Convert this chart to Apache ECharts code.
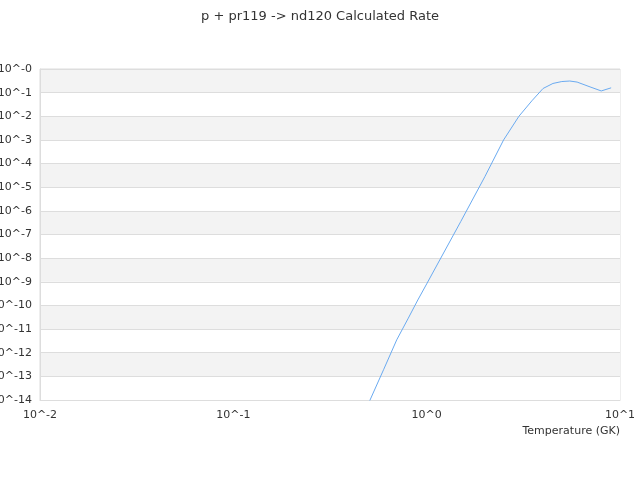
<!DOCTYPE html>
<html>
<head>
<meta charset="utf-8">
<script src="https://cdn.jsdelivr.net/npm/echarts@6/dist/echarts.min.js"></script>
<style>
  html, body { margin: 0; padding: 0; }
  #main { width: 640px; height: 480px; }
</style>
</head>
<body>
<div id="main"></div>
<script>
// temperatures in GK
var temps = [0.4, 0.5, 0.6, 0.7, 0.8, 0.9, 1.0, 1.5, 2, 2.5, 3, 3.5, 4, 4.5, 5, 5.5, 6, 7, 8, 9];
// calculated rate at each temperature
var rates = [1.3e-16, 7.1e-15, 2.0e-13, 3.5e-12, 2.7e-11, 1.7e-10, 8.1e-10, 3.5e-7, 2.8e-5, 1.0e-3,
             1.0e-2, 4.5e-2, 0.15, 0.245, 0.295, 0.31, 0.28, 0.175, 0.118, 0.16];

var myChart = echarts.init(document.getElementById('main'));

var points = [];
for (var i = 0; i < temps.length; i++) {
	points.push([temps[i], rates[i]]);
}

option = {
	animation : false,
	textStyle : { fontFamily : 'DejaVu Sans' },
	title : {
		text : 'p + pr119 -> nd120 Calculated Rate',
		left : 'center',
		top : 5,
		textStyle : { fontSize : 13, fontWeight : 'normal', color : '#333', fontFamily : 'DejaVu Sans' }
	},
	grid : {
		left : 40,
		right : 20,
		top : 69,
		bottom : 80,
		containLabel : false,
		outerBoundsMode : 'none',
		show : true,
		borderColor : '#ddd',
		borderWidth : 1
	},
	xAxis : {
		type : 'log',
		logBase : 10,
		min : 0.01,
		max : 10,
		name : 'Temperature (GK)',
		nameLocation : 'end',
		nameGap : 0,
		nameTextStyle : { align : 'right', verticalAlign : 'top', padding : [26, 0, 0, 0], color : '#333', fontSize : 11, fontFamily : 'DejaVu Sans' },
		axisLine : { lineStyle : { color : '#ddd' } },
		axisTick : { show : false },
		splitLine : { show : false },
		axisLabel : {
			color : '#333',
			fontSize : 11,
			margin : 10,
			fontFamily : 'DejaVu Sans',
			formatter : function(v) { return '10^' + Math.round(Math.log10(v)); }
		}
	},
	yAxis : {
		type : 'log',
		logBase : 10,
		min : 1e-14,
		max : 1,
		interval : 1,
		axisLine : { lineStyle : { color : '#ddd' } },
		axisTick : { show : false },
		splitLine : { lineStyle : { color : '#ddd' } },
		splitArea : { show : true, areaStyle : { color : ['#fff', '#f3f3f3'] } },
		axisLabel : {
			color : '#333',
			fontSize : 11,
			margin : 8,
			fontFamily : 'DejaVu Sans',
			formatter : function(v) { return '10^-' + Math.round(-Math.log10(v)); }
		}
	},
	series : [ {
		name : 'rate',
		type : 'line',
		data : points,
		showSymbol : false,
		clip : true,
		lineStyle : { color : '#6aaaf0', width : 1 },
		itemStyle : { color : '#6aaaf0' }
	} ]
};
myChart.setOption(option, true);
</script>
</body>
</html>
